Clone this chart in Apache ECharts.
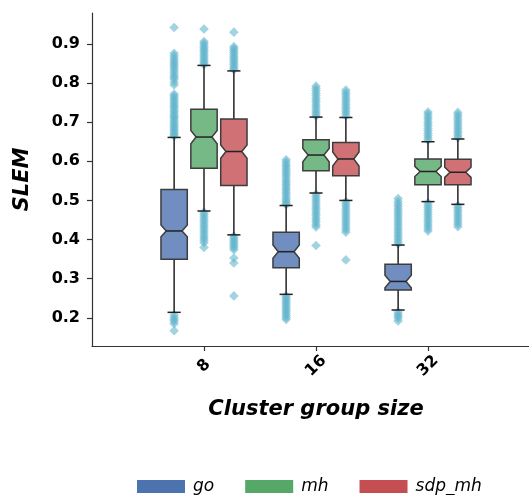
<!DOCTYPE html>
<html>
<head>
<meta charset="utf-8">
<script src="https://cdn.jsdelivr.net/npm/echarts@6/dist/echarts.min.js"></script>
<style>html,body{margin:0;padding:0;background:#fff}#c{width:529px;height:495px}</style>
</head>
<body>
<div id="c"></div>
<script>
// ---- data ----
const categories = ['8', '16', '32'];
const hues = ['go', 'mh', 'sdp_mh'];
const yTicks = [0.2, 0.3, 0.4, 0.5, 0.6, 0.7, 0.8, 0.9];

// [lower whisker, Q1, median, Q3, upper whisker] per category
const goStats    = [[0.214, 0.350, 0.422, 0.528, 0.661], [0.260, 0.328, 0.369, 0.419, 0.487], [0.220, 0.271, 0.293, 0.337, 0.386]];
const mhStats    = [[0.473, 0.582, 0.662, 0.733, 0.845], [0.519, 0.576, 0.616, 0.655, 0.713], [0.497, 0.540, 0.574, 0.606, 0.650]];
const sdpStats   = [[0.412, 0.538, 0.625, 0.708, 0.831], [0.500, 0.563, 0.606, 0.648, 0.712], [0.490, 0.540, 0.572, 0.605, 0.657]];
// notch half-height (median confidence interval)
const goNotch  = [0.015, 0.017, 0.016];
const mhNotch  = [0.017, 0.017, 0.013];
const sdpNotch = [0.017, 0.018, 0.013];

// outliers per category
const goOut = [
  [0.942,0.876,0.870,0.864,0.858,0.853,0.848,0.843,0.838,0.832,0.826,0.820,0.815,0.810,0.802,0.795,0.772,0.767,0.762,0.757,0.752,0.747,0.742,0.738,0.733,0.728,0.723,0.718,0.714,0.710,0.705,0.700,0.695,0.690,0.686,0.681,0.677,0.672,0.668,0.664,0.207,0.201,0.196,0.191,0.185,0.167],
  [0.604,0.598,0.592,0.587,0.581,0.576,0.570,0.565,0.559,0.553,0.548,0.542,0.537,0.531,0.526,0.520,0.515,0.509,0.503,0.498,0.493,0.489,0.256,0.251,0.246,0.241,0.236,0.231,0.226,0.221,0.216,0.211,0.206,0.201,0.196],
  [0.505,0.497,0.491,0.485,0.479,0.473,0.467,0.461,0.455,0.449,0.443,0.437,0.431,0.425,0.419,0.413,0.407,0.401,0.395,0.389,0.215,0.209,0.204,0.199,0.192]
];
const mhOut = [
  [0.938,0.906,0.901,0.896,0.891,0.886,0.881,0.876,0.871,0.866,0.861,0.856,0.851,0.847,0.470,0.464,0.458,0.452,0.446,0.440,0.434,0.428,0.422,0.416,0.410,0.404,0.398,0.392,0.380],
  [0.792,0.786,0.780,0.774,0.768,0.762,0.756,0.750,0.744,0.738,0.732,0.726,0.720,0.715,0.516,0.510,0.504,0.498,0.492,0.486,0.480,0.474,0.468,0.462,0.456,0.450,0.444,0.438,0.432,0.385],
  [0.726,0.720,0.714,0.708,0.702,0.696,0.690,0.684,0.678,0.672,0.666,0.660,0.654,0.494,0.488,0.482,0.476,0.470,0.464,0.458,0.452,0.446,0.440,0.434,0.428,0.422]
];
const sdpOut = [
  [0.930,0.893,0.888,0.883,0.878,0.873,0.868,0.863,0.858,0.853,0.848,0.843,0.838,0.834,0.409,0.404,0.399,0.394,0.389,0.384,0.379,0.374,0.353,0.340,0.256],
  [0.782,0.776,0.770,0.764,0.758,0.752,0.746,0.740,0.734,0.728,0.722,0.716,0.497,0.491,0.485,0.479,0.473,0.467,0.461,0.455,0.449,0.443,0.437,0.431,0.425,0.419,0.348],
  [0.725,0.719,0.713,0.707,0.701,0.695,0.689,0.683,0.677,0.671,0.665,0.660,0.487,0.481,0.475,0.469,0.463,0.457,0.451,0.445,0.439,0.433]
];

// ---- styling ----
const FONT = 'DejaVu Sans';
const colors = ['#4C72B0', '#55A868', '#C44E52'];
const boxFill = ['#708EC0', '#77B986', '#D07175'];
const flierColor = 'rgba(100,181,205,0.6)';
const hueOffset = [-0.2667, 0, 0.2667];
const boxWidth = 0.235;
const notchK = 0.6;

const stats = [goStats, mhStats, sdpStats];
const notches = [goNotch, mhNotch, sdpNotch];
const outs = [goOut, mhOut, sdpOut];

function boxRender(h) {
  return function (params, api) {
    const ci = api.value(0);
    const lo = api.value(1), q1 = api.value(2), med = api.value(3), q3 = api.value(4), hi = api.value(5), nt = api.value(6);
    const unit = api.size([1, 0])[0];
    const off = hueOffset[h] * unit;
    const P = v => { const p = api.coord([ci, v]); return [p[0] + off, p[1]]; };
    const x = P(med)[0];
    const yLo = P(lo)[1], yQ1 = P(q1)[1], yMed = P(med)[1], yQ3 = P(q3)[1], yHi = P(hi)[1];
    let yNl = P(med - nt)[1], yNh = P(med + nt)[1];
    yNl = Math.min(yNl, yQ1); yNh = Math.max(yNh, yQ3);
    const hw = boxWidth * unit / 2, cw = hw / 2, nw = hw * notchK;
    const line = (x1, y1, x2, y2, c) => ({ type: 'line', shape: { x1, y1, x2, y2 }, style: { stroke: c, lineWidth: 1.5 } });
    return {
      type: 'group',
      children: [
        line(x, yQ1, x, yLo, '#222'),
        line(x, yQ3, x, yHi, '#222'),
        line(x - cw, yLo, x + cw, yLo, '#222'),
        line(x - cw, yHi, x + cw, yHi, '#222'),
        {
          type: 'polygon',
          shape: { points: [[x - hw, yQ1], [x - hw, yNl], [x - nw, yMed], [x - hw, yNh], [x - hw, yQ3], [x + hw, yQ3], [x + hw, yNh], [x + nw, yMed], [x + hw, yNl], [x + hw, yQ1]] },
          style: { fill: boxFill[h], stroke: '#3d3d3d', lineWidth: 1.5 }
        },
        line(x - nw, yMed, x + nw, yMed, '#222')
      ]
    };
  };
}

function flierRender(h) {
  return function (params, api) {
    const unit = api.size([1, 0])[0];
    const p = api.coord([api.value(0), api.value(1)]);
    const x = p[0] + hueOffset[h] * unit, y = p[1], r = 4.8;
    return {
      type: 'polygon',
      shape: { points: [[x, y - r], [x + r, y], [x, y + r], [x - r, y]] },
      style: { fill: flierColor, stroke: 'none' }
    };
  };
}

const series = [];
hues.forEach((name, h) => {
  const fl = [];
  outs[h].forEach((arr, ci) => arr.forEach(v => fl.push([ci, v])));
  series.push({
    type: 'custom', name: name + '_fliers', renderItem: flierRender(h), data: fl, z: 1,
    encode: { x: 0, y: 1 }, itemStyle: { color: colors[h] }, silent: true
  });
});
hues.forEach((name, h) => {
  series.push({
    type: 'custom', name: name, renderItem: boxRender(h), z: 2,
    data: stats[h].map((s, ci) => [ci, s[0], s[1], s[2], s[3], s[4], notches[h][ci]]),
    encode: { x: 0, y: [1, 5] },
    itemStyle: { color: colors[h] }, silent: true
  });
});

const chart = echarts.init(document.getElementById('c'), null, { renderer: 'canvas' });
chart.setOption({
  animation: false,
  backgroundColor: '#fff',
  textStyle: { fontFamily: FONT },
  grid: { left: 92, right: -11, top: 13, bottom: 149, containLabel: false, outerBoundsMode: 'none' },
  legend: {
    data: hues, left: 137, top: 478, itemWidth: 48, itemHeight: 13, itemGap: 31, padding: 0,
    icon: 'rect',
    textStyle: { fontFamily: FONT, fontSize: 17, fontStyle: 'italic', color: '#000', padding: [0, 0, 0, 3] }
  },
  xAxis: {
    type: 'value', min: -1, max: 3,
    name: 'Cluster group size', nameLocation: 'middle', nameGap: 53,
    nameTextStyle: { fontFamily: FONT, fontSize: 21, fontWeight: 'bold', fontStyle: 'italic', color: '#000' },
    splitLine: { show: false },
    axisLine: { show: true, onZero: false, lineStyle: { color: '#333', width: 1.2 } },
    axisTick: { show: true, length: 5, lineStyle: { color: '#333', width: 1.2 }, customValues: [0, 1, 2] },
    axisLabel: {
      customValues: [0, 1, 2], formatter: v => categories[Math.round(v)] || '',
      rotate: 45, align: 'center', verticalAlign: 'middle', margin: 20,
      fontFamily: FONT, fontSize: 16, fontWeight: 'bold', color: '#000'
    }
  },
  yAxis: {
    type: 'value', min: 0.128, max: 0.979,
    name: 'SLEM', nameLocation: 'middle', nameGap: 59,
    nameTextStyle: { fontFamily: FONT, fontSize: 21, fontWeight: 'bold', fontStyle: 'italic', color: '#000' },
    splitLine: { show: false },
    axisLine: { show: true, onZero: false, lineStyle: { color: '#333', width: 1.2 } },
    axisTick: { show: true, length: 5, lineStyle: { color: '#333', width: 1.2 }, customValues: yTicks },
    axisLabel: {
      customValues: yTicks, formatter: v => v.toFixed(1), margin: 12,
      fontFamily: FONT, fontSize: 16, fontWeight: 'bold', color: '#000'
    }
  },
  series: series
});
</script>
</body>
</html>
